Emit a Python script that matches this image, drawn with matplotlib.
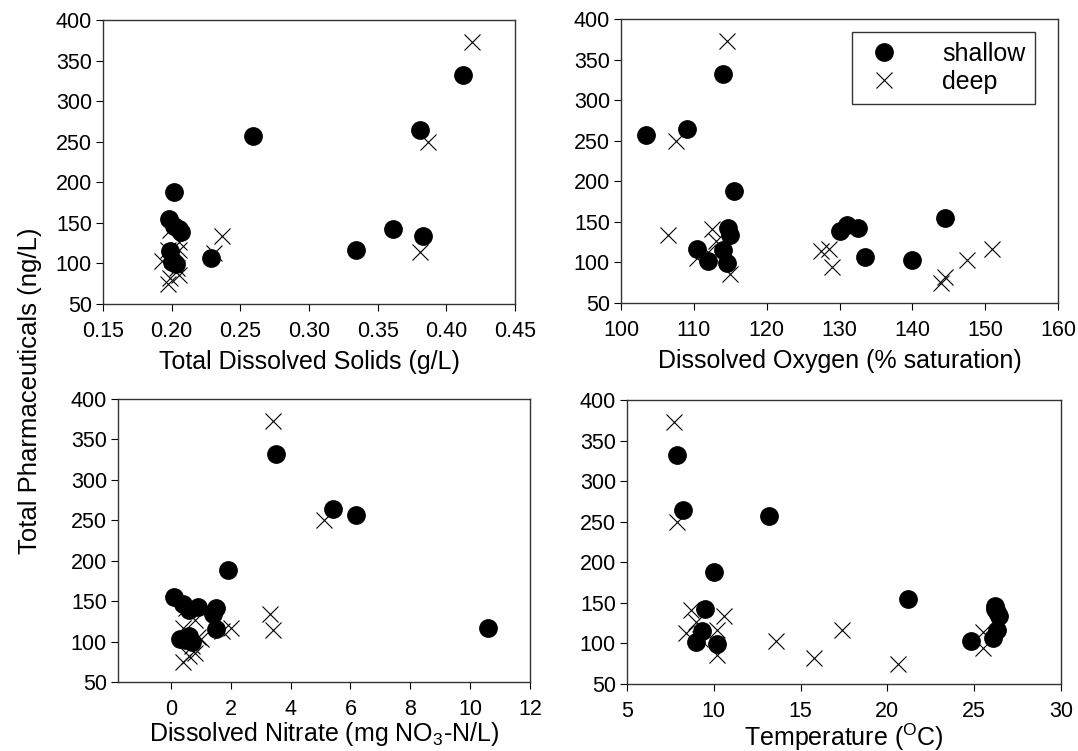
import matplotlib
matplotlib.use("Agg")
import matplotlib.pyplot as plt

plt.rcParams['font.family'] = ['Liberation Sans', 'DejaVu Sans']
plt.rcParams['mathtext.fontset'] = 'custom'
plt.rcParams['mathtext.rm'] = 'Liberation Sans'
plt.rcParams['mathtext.it'] = 'Liberation Sans'

# shallow wells
sh_pharm = [332, 264, 257, 188, 155, 146, 143, 142, 139, 134, 117, 115, 107, 103, 102, 99]
sh_tds = [0.412, 0.381, 0.259, 0.202, 0.198, 0.202, 0.205, 0.361, 0.207, 0.383, 0.334, 0.199, 0.229, 0.201, 0.200, 0.203]
sh_do = [114.0, 109.0, 103.5, 115.5, 144.5, 131.0, 114.7, 132.5, 130.0, 115.0, 110.5, 114.0, 133.5, 140.0, 112.0, 114.5]
sh_no3 = [3.5, 5.4, 6.2, 1.9, 0.1, 0.4, 0.9, 1.5, 0.6, 1.4, 10.6, 1.5, 0.6, 0.3, 0.5, 0.7]
sh_temp = [7.9, 8.2, 13.2, 10.0, 21.2, 26.2, 9.5, 26.2, 26.3, 26.4, 26.3, 9.3, 26.1, 24.8, 9.0, 10.2]

# deep wells
dp_pharm = [373, 250, 141, 134, 127, 117, 117, 114, 113, 106, 103, 94, 86, 82, 75]
dp_tds = [0.419, 0.387, 0.199, 0.237, 0.205, 0.197, 0.205, 0.381, 0.231, 0.200, 0.193, 0.204, 0.205, 0.199, 0.197]
dp_do = [114.5, 107.5, 112.5, 106.5, 113.0, 151.0, 128.5, 127.5, 112.0, 110.5, 147.5, 129.0, 115.0, 144.5, 144.0]
dp_no3 = [3.4, 5.1, 0.5, 3.3, 0.8, 0.4, 2.0, 3.4, 1.7, 0.9, 1.0, 0.7, 0.8, 0.6, 0.4]
dp_temp = [7.7, 7.9, 8.7, 10.6, 9.0, 17.4, 10.2, 25.5, 8.4, 9.2, 13.6, 25.5, 10.2, 15.8, 20.6]

W, H = 1078, 751
fig = plt.figure(figsize=(W / 100, H / 100), dpi=100)

def px_axes(left, right, top, bottom):
    return fig.add_axes([left / W, 1 - bottom / H, (right - left) / W, (bottom - top) / H])

panels = [
    (px_axes(103, 515, 20, 304), sh_tds, dp_tds, (0.15, 0.45), [0.15, 0.20, 0.25, 0.30, 0.35, 0.40, 0.45],
     'Total Dissolved Solids (g/L)', '{:.2f}', 6),
    (px_axes(621, 1058, 19, 303), sh_do, dp_do, (100, 160), [100, 110, 120, 130, 140, 150, 160],
     'Dissolved Oxygen (% saturation)', '{:.0f}', 6),
    (px_axes(118, 530, 399, 682), sh_no3, dp_no3, (-1.77, 12), [0, 2, 4, 6, 8, 10, 12],
     'Dissolved Nitrate (mg NO$_3$-N/L)', '{:.0f}', 0),
    (px_axes(627, 1061, 400, 684), sh_temp, dp_temp, (5, 30), [5, 10, 15, 20, 25, 30],
     'Temperature ($^{\\rm O}$C)', '{:.0f}', 0),
]

for ax, xs, xd, xlim, xticks, xlabel, fmt, lpad in panels:
    ax.plot(xs, sh_pharm, 'o', color='black', markersize=12.5, label='shallow')
    ax.plot(xd, dp_pharm, 'x', color='black', markersize=11.5, markeredgewidth=0.8, label='deep')
    ax.set_xlim(xlim)
    ax.set_ylim(50, 400)
    ax.set_xticks(xticks)
    ax.set_xticklabels([fmt.format(t) for t in xticks])
    ax.set_yticks([50, 100, 150, 200, 250, 300, 350, 400])
    ax.tick_params(direction='out', length=5, labelsize=15.5, top=False, right=False, pad=3)
    ax.tick_params(axis='x', pad=7)
    ax.set_xlabel(xlabel, fontsize=18, labelpad=lpad)
    for s in ax.spines.values():
        s.set_linewidth(1.0)
        s.set_color('#333333')

leg = panels[1][0].legend(loc='upper right', bbox_to_anchor=(0.965, 0.98), fontsize=18, frameon=True,
                          fancybox=False, edgecolor='black', handletextpad=1.4, borderpad=0.4,
                          labelspacing=0.15, handlelength=1.8, borderaxespad=0.3)
leg.get_frame().set_linewidth(1.0)

fig.text(30 / W, 0.48, 'Total Pharmaceuticals (ng/L)', rotation=90, ha='center', va='center', fontsize=18.5)

fig.savefig('out.png', dpi=100)
